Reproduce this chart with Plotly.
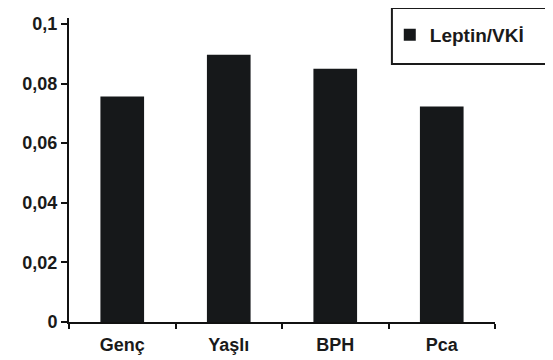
import plotly.graph_objects as go

categories = ["Genç", "Yaşlı", "BPH", "Pca"]
values = [0.0757, 0.0897, 0.0850, 0.0723]
series_name = "Leptin/VKİ"
y_ticks = [0, 0.02, 0.04, 0.06, 0.08, 0.1]

fig = go.Figure()
fig.add_trace(go.Bar(x=categories, y=values, name=series_name,
                     marker=dict(color="#16181a", line=dict(width=0)),
                     width=0.41, showlegend=True))

font_bold = dict(family="Liberation Sans, Arial, sans-serif", size=18, color="#1a1a1a", weight="bold")

# page body has an 8px margin; figure size/margins compensate for it
fig.update_layout(
    width=545, height=352,
    margin=dict(l=61, r=58, t=9, b=38),
    plot_bgcolor="white", paper_bgcolor="white",
    separators=",.",
    showlegend=True,
    legend=dict(x=0.753, y=0.941, xanchor="left", yanchor="middle",
                font=dict(family="Liberation Sans, Arial, sans-serif", size=19, color="#1a1a1a", weight="bold"),
                bgcolor="rgba(0,0,0,0)", borderwidth=0, itemwidth=30),
    shapes=[dict(type="rect", xref="paper", yref="paper",
                 x0=0.758, x1=1.129, y0=0.849, y1=1.033,
                 line=dict(color="#1a1a1a", width=2))],
    bargap=0.59,
)
fig.update_xaxes(type="category", showline=True, linecolor="#111", linewidth=2,
                 ticks="outside", tickson="boundaries", ticklen=5, tickwidth=2, tickcolor="#111",
                 ticklabelstandoff=5, automargin=False,
                 tickfont=font_bold, showgrid=False, zeroline=False)
fig.update_yaxes(range=[0, 0.102], tickvals=y_ticks, tickformat="~g",
                 showline=True, linecolor="#111", linewidth=2, automargin=False,
                 ticks="outside", ticklen=6, tickwidth=2, tickcolor="#111",
                 tickfont=font_bold, showgrid=False, zeroline=False)

fig.write_html("out.html")
